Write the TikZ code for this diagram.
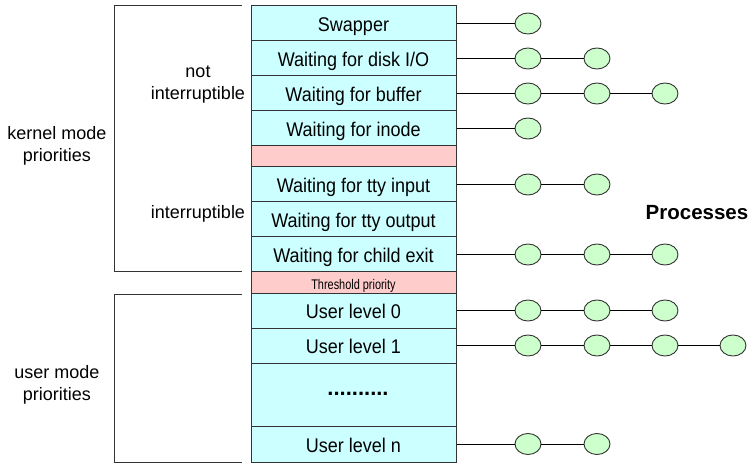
\documentclass[tikz,border=0pt]{standalone}
\usepackage{graphicx}
\usepackage{fontspec}
\setmainfont{Liberation Sans}
\usetikzlibrary{shapes.geometric}
\definecolor{cyanbg}{HTML}{CCFFFF}
\definecolor{pinkbg}{HTML}{FFCCCC}
\definecolor{greenbg}{HTML}{CCFFCC}
\definecolor{edge}{HTML}{333333}
\newcommand\tallt[1]{\scalebox{1}[1.1]{#1}}
\newcommand\thrt[1]{\scalebox{0.78}[1]{#1}}
\begin{document}
\begin{tikzpicture}[x=1pt,y=-1pt,
  rowbox/.style={draw=edge, line width=1pt, fill=cyanbg, minimum width=205pt, inner sep=0pt, text height=16.4pt, text depth=0pt, font=\fontsize{18}{20}\selectfont},
  pinkbox/.style={rowbox, fill=pinkbg},
  proc/.style={ellipse, draw=edge, line width=0.9pt, fill=greenbg, minimum width=26pt, minimum height=21pt, inner sep=0pt},
  link/.style={draw=black, line width=0.9pt},
  bracket/.style={draw=edge, line width=1pt},
  lbl/.style={align=center, font=\fontsize{18}{22}\selectfont}
]
\useasboundingbox (0,0) rectangle (756,476);
% table rows
\node[rowbox, minimum height=35pt] (r1) at (353.5,23.5) {\tallt{Swapper}};
\node[rowbox, minimum height=35pt] (r2) at (353.5,58.5) {\tallt{Waiting for disk I/O}};
\node[rowbox, minimum height=35pt] (r3) at (353.5,93.5) {\tallt{Waiting for buffer}};
\node[rowbox, minimum height=35pt] (r4) at (353.5,128.5) {\tallt{Waiting for inode}};
\node[pinkbox, minimum height=21pt] (pk) at (353.5,156.5) {};
\node[rowbox, minimum height=35pt] (r5) at (353.5,184.5) {\tallt{Waiting for tty input}};
\node[rowbox, minimum height=35pt] (r6) at (353.5,219.5) {\tallt{Waiting for tty output}};
\node[rowbox, minimum height=35pt] (r7) at (353.5,254.5) {\tallt{Waiting for child exit}};
\node[pinkbox, minimum height=21pt, text height=13.6pt, font=\fontsize{14}{15}\selectfont] (th) at (353.5,282.5) {\thrt{Threshold priority}};
\node[rowbox, minimum height=35pt] (u0) at (353.5,310.5) {\tallt{User level 0}};
\node[rowbox, minimum height=35pt] (u1) at (353.5,345.5) {\tallt{User level 1}};
\node[rowbox, minimum height=63pt] (ud) at (353.5,394.5) {};
\node[font=\fontsize{22}{23}\bfseries] (dots) at (358,393.5) {..........};
\node[rowbox, minimum height=36pt] (un) at (353.5,444) {\tallt{User level n}};
% brackets
\draw[bracket] (242,6) -- (114,6) -- (114,272) -- (242,272);
\draw[bracket] (242,294) -- (114,294) -- (114,462) -- (242,462);
% labels
\node[lbl] (kern) at (57,146) {kernel mode\\priorities};
\node[lbl] (user) at (57,385) {user mode\\priorities};
\node[lbl] (noti) at (198,85) {not\\interruptible};
\node[lbl] (inti) at (198,214) {interruptible};
\node[font=\fontsize{20.5}{22}\bfseries] (procs) at (697,213) {Processes};
% processes
\node[proc] (a1) at (528,23.5) {};
\node[proc] (b1) at (528,58.5) {};
\node[proc] (b2) at (597,58.5) {};
\node[proc] (c1) at (528,93.5) {};
\node[proc] (c2) at (597,93.5) {};
\node[proc] (c3) at (665,93.5) {};
\node[proc] (d1) at (528,128.5) {};
\node[proc] (e1) at (528,184.5) {};
\node[proc] (e2) at (597,184.5) {};
\node[proc] (f1) at (528,254.5) {};
\node[proc] (f2) at (597,254.5) {};
\node[proc] (f3) at (665,254.5) {};
\node[proc] (g1) at (528,310.5) {};
\node[proc] (g2) at (597,310.5) {};
\node[proc] (g3) at (665,310.5) {};
\node[proc] (h1) at (528,345.5) {};
\node[proc] (h2) at (597,345.5) {};
\node[proc] (h3) at (665,345.5) {};
\node[proc] (h4) at (733,345.5) {};
\node[proc] (k1) at (528,444) {};
\node[proc] (k2) at (597,444) {};
% links
\draw[link] (r1.east) -- (a1);
\draw[link] (r2.east) -- (b1) -- (b2);
\draw[link] (r3.east) -- (c1) -- (c2) -- (c3);
\draw[link] (r4.east) -- (d1);
\draw[link] (r5.east) -- (e1) -- (e2);
\draw[link] (r7.east) -- (f1) -- (f2) -- (f3);
\draw[link] (u0.east) -- (g1) -- (g2) -- (g3);
\draw[link] (u1.east) -- (h1) -- (h2) -- (h3) -- (h4);
\draw[link] (un.east) -- (k1) -- (k2);
\end{tikzpicture}
\end{document}
